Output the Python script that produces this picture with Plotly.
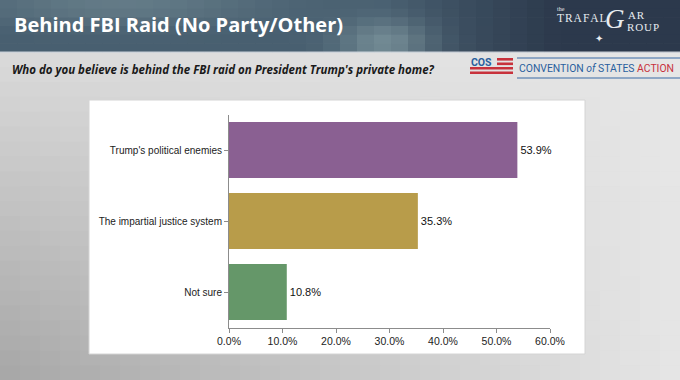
import math
import plotly.graph_objects as go

categories = ["Trump's political enemies", "The impartial justice system", "Not sure"]
values = [0.539, 0.353, 0.108]
bar_colors = ["#8a6092", "#b89c4a", "#659769"]
x_tick_vals = [0, 0.1, 0.2, 0.3, 0.4, 0.5, 0.6]

W, H = 680, 380
HEADER_H = 52

def px(x):
    return x / W

def py(y):
    return 1 - y / H

fig = go.Figure()
fig.add_trace(go.Bar(
    y=categories,
    x=values,
    orientation="h",
    marker=dict(color=bar_colors, line=dict(width=0)),
    width=0.79,
    text=[f"{v*100:.1f}%" for v in values],
    textposition="outside",
    textfont=dict(family="Liberation Sans, Arial", size=11, color="#111111"),
    cliponaxis=False,
    showlegend=False,
))

shapes = []

def cell(x0, x1, y0, y1, color):
    shapes.append(dict(type="rect", xref="paper", yref="paper",
                       x0=px(x0), x1=px(x1), y0=py(y1), y1=py(y0),
                       fillcolor=color, line=dict(width=0), layer="below"))

# Background gradient: light at right, darker towards bottom-left
nx, ny = 34, 22
for i in range(nx):
    for j in range(ny):
        x0 = W * i / nx
        x1 = W * (i + 1) / nx + 0.6
        y0 = HEADER_H + (H - HEADER_H) * j / ny
        y1 = HEADER_H + (H - HEADER_H) * (j + 1) / ny + 0.6
        fx = 1 - (i + 0.5) / nx
        fy = (j + 0.5) / ny
        c = int(round(230 - 52 * fx * fy - 12 * fx))
        cell(x0, x1, y0, y1, f"rgb({c},{c},{c})")

# Header stormy band with a lighter cloud
hx, hy = 40, 6
for i in range(hx):
    for j in range(hy):
        x0 = W * i / hx
        x1 = W * (i + 1) / hx + 0.6
        y0 = HEADER_H * j / hy
        y1 = HEADER_H * (j + 1) / hy + 0.6
        xc = (i + 0.5) * W / hx
        yc = (j + 0.5) * HEADER_H / hy
        t = min(max((xc - 380) / 180, 0), 1)
        r = 72 - 28 * t
        g = 95 - 38 * t
        b = 112 - 36 * t
        cloud = math.exp(-(((xc - 385) / 45) ** 2) - (((yc - 42) / 22) ** 2))
        cloud2 = 0.35 * math.exp(-(((xc - 120) / 140) ** 2) - (((yc - 5) / 20) ** 2))
        k = 0.55 * cloud + cloud2
        r = r + (150 - r) * k
        g = g + (175 - g) * k
        b = b + (178 - b) * k
        cell(x0, x1, y0, y1, f"rgb({int(r)},{int(g)},{int(b)})")
shapes.append(dict(type="rect", xref="paper", yref="paper",
                   x0=0, x1=1, y0=py(53), y1=py(51.5),
                   fillcolor="rgba(215,220,225,0.9)", line=dict(width=0), layer="below"))
# White chart panel
shapes.append(dict(type="rect", xref="paper", yref="paper",
                   x0=px(89), x1=px(585), y0=py(354), y1=py(100),
                   fillcolor="white", line=dict(color="#d4d4d4", width=1), layer="below"))
# COS flag stripes
stripe_specs = [(58, 497), (62.5, 497), (67, 470), (71.5, 470)]
for y, x0 in stripe_specs:
    shapes.append(dict(type="rect", xref="paper", yref="paper",
                       x0=px(x0), x1=px(513), y0=py(y + 2.6), y1=py(y),
                       fillcolor="#c8323c", line=dict(width=0), layer="above"))
# lines around convention logo
for yl in (58, 78):
    shapes.append(dict(type="line", xref="paper", yref="paper",
                       x0=px(517), x1=px(680), y0=py(yl), y1=py(yl),
                       line=dict(color="#3a6aa5", width=1)))

logo_font = "Liberation Serif, DejaVu Serif"
logo_col = "#e8ecf0"
hs = "\u200a"
annotations = [
    dict(text="<b>Behind FBI Raid (No Party/Other)</b>", x=px(12), y=py(25),
         xref="paper", yref="paper", xanchor="left", yanchor="middle", showarrow=False,
         font=dict(family="Open Sans, Noto Sans", size=20, color="white")),
    dict(text="<b><i>Who do you believe is behind the FBI raid on President Trump's private home?</i></b>",
         x=px(10), y=py(69), xref="paper", yref="paper", xanchor="left", yanchor="middle",
         showarrow=False, font=dict(family="Open Sans, Noto Sans", size=11.5, color="#1a1a1a")),
    dict(text="<b>COS</b>", x=px(469), y=py(62), xref="paper", yref="paper",
         xanchor="left", yanchor="middle", showarrow=False,
         font=dict(family="Roboto, Liberation Sans", size=10.5, color="#2a5f9e")),
    dict(text="<span style='color:#2a5f9e'>CONVENTION <i>of</i> STATES</span> <span style='color:#c8323c'>ACTION</span>",
         x=px(517), y=py(68), xref="paper", yref="paper", xanchor="left", yanchor="middle",
         showarrow=False, font=dict(family="Roboto, Liberation Sans", size=10.4)),
    dict(text="the", x=px(555), y=py(9), xref="paper", yref="paper", xanchor="left",
         yanchor="middle", showarrow=False, font=dict(family=logo_font, size=6, color=logo_col)),
    dict(text=hs.join("TRAFAL"), x=px(555), y=py(18), xref="paper", yref="paper", xanchor="left",
         yanchor="middle", showarrow=False, font=dict(family=logo_font, size=11.5, color=logo_col)),
    dict(text="<i>G</i>", x=px(615), y=py(19), xref="paper", yref="paper", xanchor="center",
         yanchor="middle", showarrow=False, font=dict(family=logo_font, size=27, color=logo_col)),
    dict(text=hs.join("AR"), x=px(626), y=py(15), xref="paper", yref="paper", xanchor="left",
         yanchor="middle", showarrow=False, font=dict(family=logo_font, size=11, color=logo_col)),
    dict(text=hs.join("ROUP"), x=px(625), y=py(27), xref="paper", yref="paper", xanchor="left",
         yanchor="middle", showarrow=False, font=dict(family=logo_font, size=11, color=logo_col)),
    dict(text="✦", x=px(599), y=py(39), xref="paper", yref="paper", xanchor="center",
         yanchor="middle", showarrow=False, font=dict(family="DejaVu Sans", size=10, color=logo_col)),
]

fig.update_layout(
    width=W, height=H,
    margin=dict(l=0, r=0, t=0, b=0, pad=0, autoexpand=False),
    paper_bgcolor="#d0d0d0",
    plot_bgcolor="rgba(0,0,0,0)",
    shapes=shapes,
    annotations=annotations,
    xaxis=dict(
        domain=[px(229), px(550)],
        range=[0, 0.6],
        tickvals=x_tick_vals,
        tickformat=".1%",
        showgrid=False, zeroline=False,
        showline=True, linecolor="#8c8c8c", linewidth=1,
        ticks="outside", ticklen=4, tickcolor="#8c8c8c",
        automargin=False,
        tickfont=dict(family="Liberation Sans, Arial", size=10.5, color="#222222"),
    ),
    yaxis=dict(
        domain=[py(327.5), py(114.5)],
        autorange="reversed",
        showgrid=False, zeroline=False,
        showline=True, linecolor="#8c8c8c", linewidth=1,
        ticks="outside", ticklen=4, tickcolor="#8c8c8c",
        automargin=False,
        tickfont=dict(family="Liberation Sans, Arial", size=10, color="#222222"),
    ),
)

fig.write_html(
    "out.html",
    config={"displayModeBar": False},
    post_script="document.body.style.margin='0';document.body.style.overflow='hidden';",
)
